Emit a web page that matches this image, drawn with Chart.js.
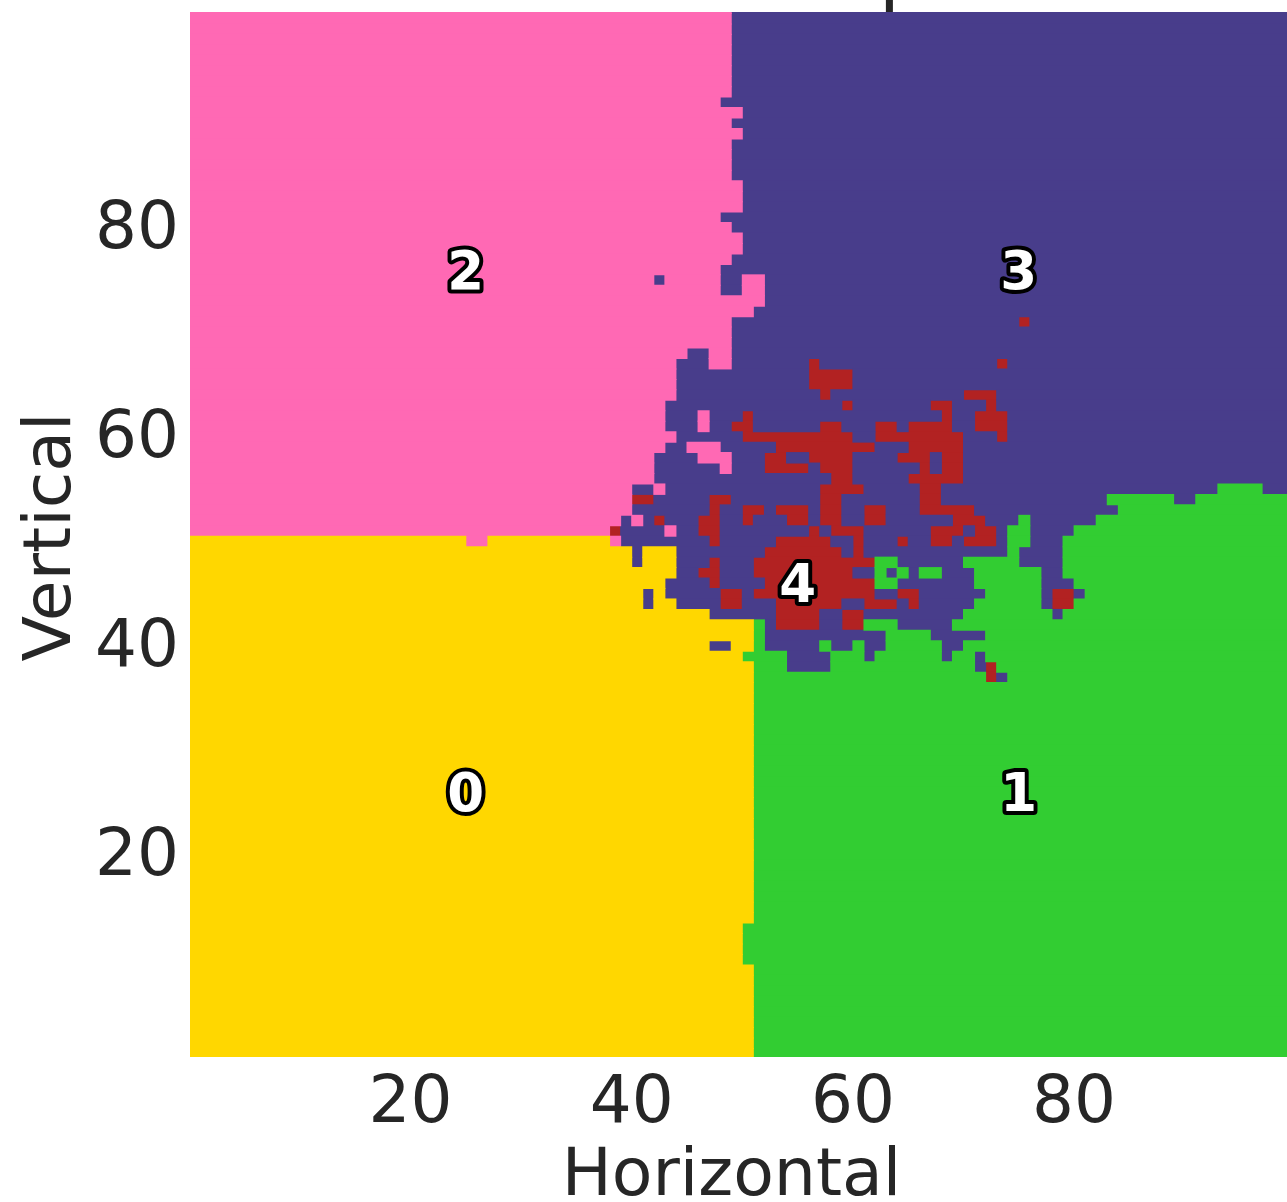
<!DOCTYPE html>
<html>
<head>
<meta charset="utf-8">
<style>html,body{margin:0;padding:0;background:#fff;overflow:hidden}canvas{display:block}</style>
<script src="https://cdn.jsdelivr.net/npm/chart.js@4"></script>
</head>
<body>
<canvas id="c" width="1287" height="1202"></canvas>
<script>
// Each row lists class letter + starting column; a run lasts until the next run's start. Row 0 is the top row.
const rows = [
"P0 B49",
"P0 B49","P0 B49","P0 B49","P0 B49","P0 B49","P0 B49","P0 B49","P0 B49",
"P0 B48","P0 B50","P0 B49","P0 B50",
"P0 B49","P0 B49","P0 B49","P0 B49",
"P0 B50","P0 B50","P0 B50","P0 B48","P0 B49","P0 B50","P0 B50","P0 B49","P0 B48",
"P0 B42 P43 B48 P50 B52",
"P0 B48 P50 B52",
"P0 B52",
"P0 B51",
"P0 B49 R75 B76",
"P0 B49",
"P0 B49",
"P0 B45 P47 B49",
"P0 B44 P47 B49 R56 B57 R73 B74",
"P0 B44 R56 B60",
"P0 B44 R56 B60",
"P0 B44 R57 B58 R70 B73",
"P0 B43 R59 B60 R67 B69 R72 B73",
"P0 B43 P46 B47 R50 B51 R68 B69 R71 B74",
"P0 B43 P46 B47 R49 B51 R57 B59 R62 B64 R65 B69 R71 B74",
"P0 B44 R50 B60 R62 B70 R73 B74",
"P0 B43 P45 B48 R53 B62 R65 B70",
"P0 B42 P46 B49 R52 B54 R56 B60 R64 B67 R68 B70",
"P0 B42 P48 B49 R52 B56 R57 B60 R66 B67 R68 B70",
"P0 B42 R58 B60 R65 B70",
"P0 B40 P42 B43 R57 B61 R66 B68 G93 B97",
"P0 R40 B42 R47 B49 R57 B59 R66 B68 G83 B89 G91",
"P0 B40 R47 B48 R50 B52 R53 B56 R57 B59 R61 B63 R66 B71 G84",
"P0 B39 P40 B41 R42 B43 R46 B48 R50 B51 R54 B56 R57 B59 R61 B63 R69 B72 G75 B76 G82",
"P0 R38 B39 P43 B44 R46 B48 R56 B57 R58 B61 R67 B70 R71 B73 G74 B76 G80",
"Y0 P25 Y27 P38 B39 R47 B48 R53 B58 R60 B61 R64 B65 R67 B69 R70 B73 G74 B76 G79",
"Y0 B40 Y41 B44 R52 B59 R60 B61 G74 B75 G79",
"Y0 B40 Y41 B44 R47 B48 R51 G62 B64 G70 B75 G79",
"Y0 B44 R46 B48 R51 B60 G62 B63 G64 B65 G66 B68 G71 B77 G79",
"Y0 B43 R47 B48 R52 G62 B64 G71 B77 G80",
"Y0 B41 Y42 B43 R48 B50 R51 B62 R64 B66 G72 B77 R78 B80 G81",
"Y0 B41 Y42 B44 R48 B50 R53 B59 R61 B64 R65 B66 G71 B77 R78 G80",
"Y0 B47 R53 B57 R59 B61 G70 B78 G79",
"Y0 G51 B52 R53 B57 R59 G61 B64 G69",
"Y0 G51 B52 G63 B67 G72",
"Y0 B47 Y49 G51 B52 G57 B58 G60 B61 G63 B68 G70",
"Y0 G50 B54 G58 B61 G62 B68 G69 B71 G72",
"Y0 G51 B54 G58 B71 R72 G73",
"Y0 G51 R72 B73 G74",
"Y0 G51","Y0 G51","Y0 G51","Y0 G51","Y0 G51","Y0 G51","Y0 G51","Y0 G51",
"Y0 G51","Y0 G51","Y0 G51","Y0 G51","Y0 G51","Y0 G51","Y0 G51","Y0 G51",
"Y0 G51","Y0 G51","Y0 G51","Y0 G51","Y0 G51","Y0 G51","Y0 G51",
"Y0 G50","Y0 G50","Y0 G50","Y0 G50",
"Y0 G51","Y0 G51","Y0 G51","Y0 G51","Y0 G51","Y0 G51","Y0 G51","Y0 G51","Y0 G51"
];
const classKeys = ["Y","G","P","B","R"];
const classColors = ["#FFD700","#32CD32","#FF69B4","#483D8B","#B22222"];
const tickValues = [20,40,60,80];
const clusterIds = ["0","1","2","3","4"];
const clusterX = [25,75,25,75,55];
const clusterY = [25,25,75,75,45];
const topMarkX = [63.3];
const columnCount = 100;
const textColor = "#262626";
const fontFamily = "'DejaVu Sans'";

const datasets = classKeys.map((k,i)=>({label:"Cluster "+i,data:[],backgroundColor:classColors[i],
  borderWidth:0,inflateAmount:0.5,barThickness:10.46,grouped:false}));
rows.forEach((row,r)=>{
  const runs = row.split(" ").map(t=>[t[0],+t.slice(1)]);
  runs.forEach((run,j)=>{
    const end = j+1<runs.length ? runs[j+1][1] : columnCount;
    datasets[classKeys.indexOf(run[0])].data.push({y:rows.length-r-1.5+1,x:[run[1],end]});
  });
});

const overlay = {id:"overlay",afterDraw(chart){
  const {ctx,scales:{x,y}} = chart;
  ctx.save();
  // cluster numbers
  ctx.font = "bold 53px "+fontFamily;
  ctx.textAlign="center";ctx.textBaseline="middle";ctx.lineJoin="round";
  clusterIds.forEach((t,i)=>{
    const px=x.getPixelForValue(clusterX[i]), py=y.getPixelForValue(clusterY[i]);
    ctx.lineWidth=8;ctx.strokeStyle="#000";ctx.strokeText(t,px,py);
    ctx.fillStyle="#fff";ctx.fillText(t,px,py);
  });
  // short dark mark above the plot
  ctx.fillStyle=textColor;
  topMarkX.forEach(v=>ctx.fillRect(x.getPixelForValue(v)-3.5,0,7,y.top));
  // axis titles
  ctx.font="66.5px "+fontFamily;ctx.fillStyle=textColor;ctx.textBaseline="alphabetic";
  ctx.fillText("Horizontal",731.5,1195);
  ctx.translate(70,537);ctx.rotate(-Math.PI/2);
  ctx.fillText("Vertical",0,0);
  ctx.restore();
}};

const tickFont = {family:fontFamily,size:66};
const noPad = s=>{s.paddingTop=0;s.paddingBottom=0;s.paddingLeft=0;s.paddingRight=0;};
new Chart(document.getElementById("c"),{
  type:"bar",
  data:{datasets},
  plugins:[overlay],
  options:{
    indexAxis:"y",responsive:false,animation:false,devicePixelRatio:1,
    layout:{padding:{top:12,left:0,right:0,bottom:0}},
    plugins:{legend:{display:false},tooltip:{enabled:false},title:{display:false}},
    scales:{
      x:{type:"linear",position:"bottom",min:0.063,max:99.25,stacked:false,
        grid:{display:false,drawTicks:false},border:{display:false},
        ticks:{color:textColor,font:tickFont,padding:8,maxRotation:0,autoSkip:false},
        afterBuildTicks(s){s.ticks=tickValues.map(v=>({value:v}));},
        afterFit(s){s.height=145;noPad(s);}},
      y:{type:"linear",position:"left",min:0.19,max:100.14,offset:false,stacked:false,
        grid:{display:false,drawTicks:false},border:{display:false},
        ticks:{color:textColor,font:tickFont,padding:11,labelOffset:8,autoSkip:false},
        afterBuildTicks(s){s.ticks=tickValues.map(v=>({value:v}));},
        afterFit(s){s.width=190;noPad(s);}}
    }
  }
});
</script>
</body>
</html>
